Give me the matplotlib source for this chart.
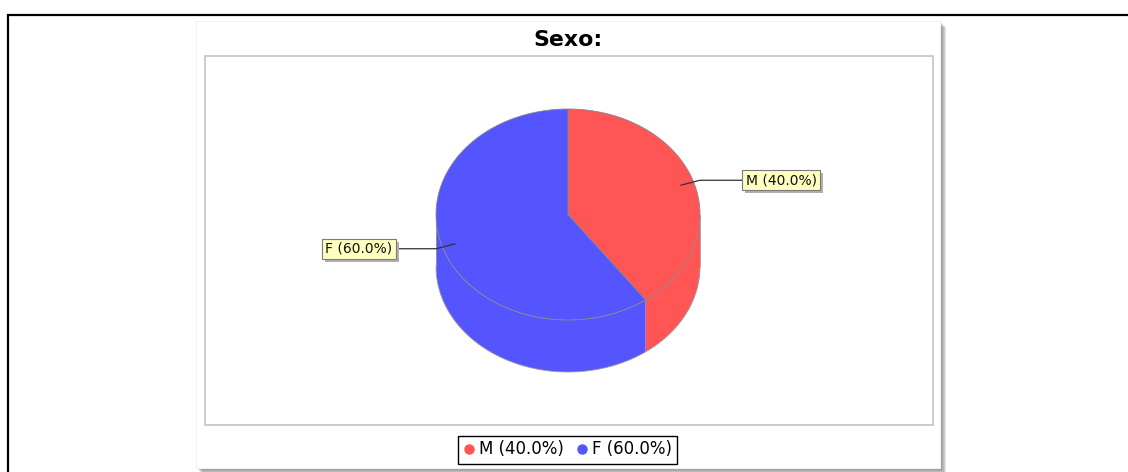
import numpy as np
import matplotlib.pyplot as plt
from matplotlib.patches import Rectangle, Polygon
from matplotlib.lines import Line2D

# data
labels = ['M', 'F']
values = [40.0, 60.0]
colors = ['#ff5555', '#5555ff']
title = 'Sexo:'

W, H = 1128, 472
fig = plt.figure(figsize=(W / 100, H / 100), dpi=100)
ax = fig.add_axes([0, 0, 1, 1])
ax.set_xlim(0, W)
ax.set_ylim(H, 0)
ax.axis('off')

# outer black frame (top and left)
ax.plot([8, 8, W], [H, 15, 15], color='black', lw=1.6, solid_joinstyle='miter', zorder=0)

# chart panel with drop shadow
px, py, pw, ph = 196, 21, 744, 447
for i in range(1, 7):
    ax.add_patch(Rectangle((px + i, py + i), pw, ph, fc='#606060', ec='none', alpha=0.17, zorder=1))
ax.add_patch(Rectangle((px, py), pw, ph, fc='white', ec='#f2f2f2', lw=0.8, zorder=2))

# plot area border
ax.add_patch(Rectangle((204.5, 55.5), 728.5, 369.5, fill=False, ec='#c8c8c8', lw=1.3, zorder=3))

ax.text(568, 46.5, title, fontsize=15.8, fontweight='bold', ha='center', va='baseline', zorder=5)

# 3D pie
cx, cy, rx, ry, depth = 568, 214.5, 132, 105.5, 52
total = sum(values)
fr = np.cumsum([0] + values) / total
starts = 90 - 360 * fr[:-1]
ends = 90 - 360 * fr[1:]


def pt(a, r=1.0):
    a = np.radians(a)
    return cx + r * rx * np.cos(a), cy - r * ry * np.sin(a)


# sides (front half only)
for a0, a1, c in zip(starts, ends, colors):
    lo, hi = max(a1, -180), min(a0, 0)
    if lo >= hi:
        continue
    t = np.linspace(hi, lo, 80)
    x, y = pt(t)
    xs = np.concatenate([x, x[::-1]])
    ys = np.concatenate([y, y[::-1] + depth])
    ax.add_patch(Polygon(np.column_stack([xs, ys]), closed=True, fc=c, ec='none', zorder=4))

# outline of the cylinder bottom
t = np.linspace(-180, 0, 120)
x, y = pt(t)
ax.plot(x, y + depth, color='#9a9a9a', lw=0.6, zorder=4)
ax.plot([cx - rx, cx - rx], [cy, cy + depth], color='#9a9a9a', lw=0.6, zorder=4)
ax.plot([cx + rx, cx + rx], [cy, cy + depth], color='#9a9a9a', lw=0.6, zorder=4)

# top face
for a0, a1, c in zip(starts, ends, colors):
    t = np.linspace(a0, a1, 120)
    x, y = pt(t)
    xs = np.concatenate([[cx], x])
    ys = np.concatenate([[cy], y])
    ax.add_patch(Polygon(np.column_stack([xs, ys]), closed=True, fc=c, ec='#888888', lw=0.6, zorder=4.5))

# section labels
label_texts = []
for lab, v, a0, a1 in zip(labels, values, starts, ends):
    m = (a0 + a1) / 2
    x0, y0 = pt(m, 0.9)
    x1, y1 = pt(m, 1.05)
    right = np.cos(np.radians(m)) > 0
    xb = cx + rx + 42 if right else cx - rx - 40
    ax.plot([x0, x1, xb], [y0, y1, y1], color='#333333', lw=0.9, zorder=6)
    s = f'{lab} ({v / total * 100:.1f}%)'
    ha = 'left' if right else 'right'
    tx = xb + 3.5 if right else xb - 3.5
    t = ax.text(tx, y1, s, fontsize=10, color='#111111', ha=ha, va='center',
                bbox=dict(boxstyle='square,pad=0.22', fc='#ffffc0', ec='#7a7a7a', lw=0.8), zorder=7)
    label_texts.append(t)

# label shadows, sized from the drawn boxes
fig.canvas.draw()
renderer = fig.canvas.get_renderer()
inv = ax.transData.inverted()
for t in label_texts:
    bb = t.get_bbox_patch().get_window_extent(renderer)
    (xa, ya), (xc, yc) = inv.transform([[bb.x0, bb.y0], [bb.x1, bb.y1]])
    ax.add_patch(Rectangle((min(xa, xc) + 3, min(ya, yc) + 3), abs(xc - xa), abs(yc - ya),
                           fc='#b0b0b0', ec='none', zorder=6.5))

# legend
handles = [Line2D([], [], ls='none', marker='o', markersize=7.5, markerfacecolor=c,
                  markeredgecolor='none', label=f'{lab} ({v / total * 100:.1f}%)')
           for lab, v, c in zip(labels, values, colors)]
leg = ax.legend(handles=handles, loc='center', bbox_to_anchor=(567.5 / W, 1 - 449.5 / H),
                bbox_transform=fig.transFigure, ncol=2, fontsize=12, frameon=True, fancybox=False,
                edgecolor='black', framealpha=1, handlelength=0.7, handletextpad=0.25,
                columnspacing=0.7, borderpad=0.3, borderaxespad=0)
leg.get_frame().set_linewidth(1.0)
leg.set_zorder(8)

fig.savefig('out.png', dpi=100)
